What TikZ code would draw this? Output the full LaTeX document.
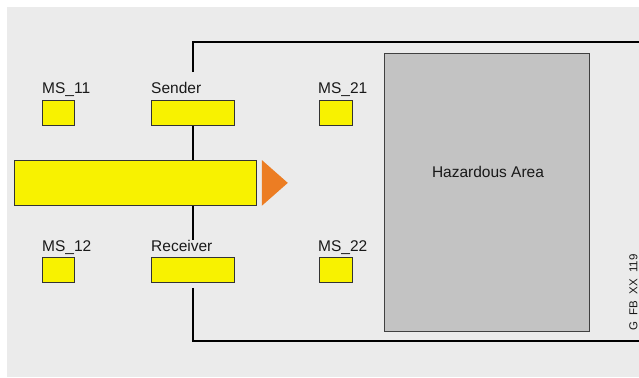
\documentclass[tikz,border=0pt]{standalone}
\usepackage{fontspec}
\setmainfont{Liberation Sans}
\usetikzlibrary{positioning}

\definecolor{bggray}{HTML}{EBEBEB}
\definecolor{boxyellow}{HTML}{F8F200}
\definecolor{hazgray}{HTML}{C3C3C3}
\definecolor{tipor}{HTML}{EC7D23}

\begin{document}
\begin{tikzpicture}[x=1pt,y=-1pt,
  every node/.style={font=\fontsize{15.5}{18}\selectfont, text=black!90},
  ybox/.style={draw=black!80, line width=0.8pt, fill=boxyellow, inner sep=0pt, anchor=north west},
  lbl/.style={anchor=base west, inner sep=0pt},
  wire/.style={line width=2.8pt}]
  % Background
  \useasboundingbox (0,0) rectangle (639,377);
  \fill[bggray] (7,7) rectangle (639,377);

  % Hazardous area
  \node[draw=black!75, line width=0.8pt, fill=hazgray, inner sep=0pt, anchor=north west,
        minimum width=205pt, minimum height=278pt] (hazard) at (384,53) {};
  \node[anchor=base, inner sep=0pt] (hazlbl) at (488,177) {Hazardous Area};

  % Muting sensors
  \node[ybox, minimum width=32pt, minimum height=25pt] (ms11) at (42,100) {};
  \node[ybox, minimum width=32pt, minimum height=25pt] (ms12) at (42,257) {};
  \node[ybox, minimum width=33pt, minimum height=25pt] (ms21) at (319,100) {};
  \node[ybox, minimum width=33pt, minimum height=25pt] (ms22) at (319,257) {};
  \node[lbl] (ms11lbl) at (42,94) {MS\_11};
  \node[lbl] (ms12lbl) at (42,251) {MS\_12};
  \node[lbl] (ms21lbl) at (318,94) {MS\_21};
  \node[lbl] (ms22lbl) at (318,251) {MS\_22};

  % Sender and receiver
  \node[ybox, minimum width=83pt, minimum height=25pt] (sender) at (151,100) {};
  \node[ybox, minimum width=83pt, minimum height=25pt] (rcv) at (151,257) {};
  \node[lbl] (sndlbl) at (151,94) {Sender};
  \node[lbl] (rcvlbl) at (151,251) {Receiver};

  % Material on the conveyor
  \node[ybox, minimum width=242pt, minimum height=45pt] (feed) at (14,160) {};
  \fill[tipor] ([xshift=5pt]feed.north east) -- ([xshift=31pt]feed.east)
    -- ([xshift=5pt]feed.south east) -- cycle;

  % Light curtain frame
  \coordinate (topright) at (639,42);
  \coordinate (botright) at (639,341);
  \draw[wire] ([yshift=10.5pt]sender.north |- sndlbl.north) |- (topright);
  \draw[wire] (sender.south) -- (sender.south |- feed.north);
  \draw[wire] (rcv.north |- feed.south) -- (rcv.north |- rcvlbl.north);
  \draw[wire] ([yshift=-5pt]rcv.south) |- (botright);

  % Drawing number
  \node[anchor=base west, inner sep=0pt, rotate=90, font=\fontsize{11.5}{13}\selectfont]
    (docnr) at (637.3,331) {G\ \ FB\ \ XX\ \ 119};
\end{tikzpicture}
\end{document}
